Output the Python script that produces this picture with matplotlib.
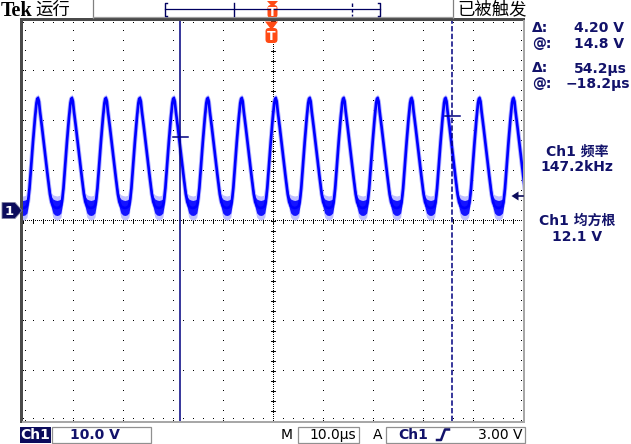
import matplotlib
matplotlib.use('Agg')
import matplotlib.pyplot as plt
import numpy as np
from matplotlib.patches import Rectangle, Polygon, FancyBboxPatch

freq_khz = 147.2          # Ch1 frequency readout
rms_v = 12.1              # Ch1 RMS readout
trig_level_v = 3.00       # trigger level
volts_per_div = 10.0
time_per_div_us = 10.0
peak_time0_us = 0.54      # time of the waveform peak just after the trigger point
# one period of the waveform (µs after a peak) and its voltage
shape_t = [0.0, 0.2, 0.4, 0.8, 1.2, 1.6, 2.0, 2.4, 2.7, 3.0, 3.4, 3.8,
           4.2, 4.6, 4.8, 5.1, 5.4, 5.8, 6.2, 6.5, 6.66]
shape_v = [22.6, 21.9, 20.0, 16.8, 13.4, 10.0, 6.6, 3.4, 1.8, 1.0, 0.7, 0.6,
           0.7, 1.0, 1.8, 4.5, 8.5, 13.8, 18.6, 21.6, 22.4]
# half-width of the noise band around the trace (V)
shape_noise = [0.5, 0.5, 0.4, 0.4, 0.4, 0.4, 0.5, 0.8, 1.1, 1.4, 1.5, 1.5,
               1.5, 1.4, 1.1, 0.6, 0.4, 0.4, 0.4, 0.5, 0.5]
cursor_times_us = [-18.6, 35.8]
cursor_volts = [14.8, 19.0]
readouts = [("Δ:", "4.20 V"), ("@:", "14.8 V"), ("Δ:", "54.2µs"), ("@:", "−18.2µs")]

# ---------------- layout ----------------
W, H = 631, 444
GX0, GY0, GW, GH = 23, 21, 500, 400
ground_px = 211
px_per_div = 50
NAVY = '#12126a'
ORANGE = '#ff4a14'

fig = plt.figure(figsize=(W / 100, H / 100), dpi=100)
fig.patch.set_facecolor('white')

# graticule axes (data coordinates: µs, V)
v_top = (ground_px - GY0) / px_per_div * volts_per_div
v_bot = (ground_px - (GY0 + GH)) / px_per_div * volts_per_div
v_center = (v_top + v_bot) / 2
ax = fig.add_axes([GX0 / W, 1 - (GY0 + GH) / H, GW / W, GH / H])
ax.set_xlim(-5 * time_per_div_us, 5 * time_per_div_us)
ax.set_ylim(v_bot, v_top)
ax.axis('off')

dt_px = time_per_div_us / px_per_div    # µs per pixel
dv_px = volts_per_div / px_per_div      # V per pixel

# grid dots
dots_x, dots_y = [], []
ys_all = np.arange(v_bot, v_top + 1e-6, 10 * dv_px)
xs_all = np.arange(-50, 50 + 1e-6, 10 * dt_px)
for k in range(-4, 5):
    if k == 0:
        continue
    xv = k * time_per_div_us
    dots_x += [xv] * len(ys_all)
    dots_y += list(ys_all)
for k in range(-3, 4):
    if k == 0:
        continue
    yv = v_center + k * volts_per_div
    dots_x += list(xs_all)
    dots_y += [yv] * len(xs_all)
# edge ticks
for xv in xs_all:
    dots_x += [xv, xv]
    dots_y += [v_top - 2 * dv_px, v_bot + 2 * dv_px]
for yv in ys_all:
    dots_x += [-50 + 2 * dt_px, 50 - 2 * dt_px]
    dots_y += [yv, yv]
# center lines, dense dots
ys_c = np.arange(v_bot, v_top + 1e-6, 2 * dv_px)
xs_c = np.arange(-50, 50 + 1e-6, 2 * dt_px)
dots_x += [0.0] * len(ys_c) + list(xs_c)
dots_y += list(ys_c) + [v_center] * len(xs_c)
ax.plot(dots_x, dots_y, ls='none', marker=',', color='black', zorder=1)
# center ticks
for yv in ys_all:
    ax.plot([-2 * dt_px, 2 * dt_px], [yv, yv], color='black', lw=0.7, zorder=1)
for xv in xs_all:
    ax.plot([xv, xv], [v_center - 2 * dv_px, v_center + 2 * dv_px], color='black', lw=0.7, zorder=1)

# waveform: tile the read period
period_us = 1000.0 / freq_khz
ts, vs, ns = [], [], []
for k in range(-9, 9):
    base = peak_time0_us + k * period_us
    for t, v, n in zip(shape_t, shape_v, shape_noise):
        ts.append(base + t)
        vs.append(v)
        ns.append(n)
ts, vs, ns = np.array(ts), np.array(vs), np.array(ns)
ax.plot(ts, vs, color='#b0b0ff', lw=3.2, zorder=3, solid_joinstyle='round')
ax.fill_between(ts, vs - 1.6 * ns, vs + 1.6 * ns, color='#c0c0ff', lw=0, zorder=3)
ax.fill_between(ts, vs - ns, vs + ns, color='#1414ff', lw=0, zorder=4)
ax.plot(ts, vs, color='#0000ff', lw=1.9, zorder=5, solid_joinstyle='round')

# cursors
ax.axvline(cursor_times_us[0], color='#000080', lw=1.1, zorder=6)
ax.axvline(cursor_times_us[1], color='#000080', lw=1.1, dashes=(3.5, 1.5), zorder=6)
for tc, vc in zip(cursor_times_us, cursor_volts):
    ax.plot([tc - 7 * dt_px, tc + 8 * dt_px], [vc, vc], color='#000080', lw=1.1, zorder=6)

# ---------------- overlay in pixel coordinates ----------------
oax = fig.add_axes([0, 0, 1, 1], zorder=10)
oax.set_xlim(0, W)
oax.set_ylim(H, 0)
oax.axis('off')
oax.patch.set_alpha(0)

# graticule border
oax.add_patch(Rectangle((20, 18), 505, 3, color='#4a4a4a', lw=0))
oax.add_patch(Rectangle((20, 18), 3, 405, color='#4a4a4a', lw=0))
oax.add_patch(Rectangle((523, 20), 2, 403, color='#a8a8a8', lw=0))
oax.add_patch(Rectangle((22, 421), 503, 2, color='#a8a8a8', lw=0))
# top bar separators
oax.plot([93, 93], [0, 18], color='#808080', lw=0.9)
oax.plot([453, 453], [0, 18], color='#808080', lw=0.9)
oax.plot([93, 453], [17, 17], color='#a0a0a0', lw=0.9)

# record-length bar
oax.plot([165, 380], [9.3, 9.3], color='#000060', lw=0.9)
oax.plot([167, 165, 165, 167], [3, 3, 16, 16], color='#000060', lw=1.0)
oax.plot([378, 380, 380, 378], [3, 3, 16, 16], color='#000060', lw=1.0)
oax.plot([234, 234], [3, 16], color='#000060', lw=1.0)
oax.plot([352, 352], [3, 16], color='#000060', lw=1.0, dashes=(2.5, 1.5))


def t_marker(cx, ytri, ybox0, ybox1, half):
    oax.add_patch(Polygon([[cx - half, ytri], [cx + half, ytri], [cx, ybox0 + 2]], closed=True,
                          color=ORANGE, lw=0))
    oax.add_patch(FancyBboxPatch((cx - half + 0.5, ybox0), 2 * half - 1, ybox1 - ybox0,
                                 boxstyle='round,pad=0,rounding_size=3.5',
                                 fc=ORANGE, ec='none'))
    oax.text(cx, (ybox0 + ybox1) / 2 + 0.5, 'T', color='white', fontsize=9, fontweight='bold',
             ha='center', va='center', family='DejaVu Sans')


t_marker(272.5, 1, 5, 18, 5.5)
t_marker(271.5, 21.5, 28, 43, 6.5)

# Tek 运行 / 已被触发
oax.text(1, 10.5, 'Tek', fontsize=14.5, fontweight='bold', family='Liberation Serif',
         ha='left', va='center', color='black')
oax.text(35, 9.5, '运行', fontsize=12.5, family='Noto Sans CJK SC', ha='left', va='center',
         color='black')
oax.text(457, 9.5, '已被触发', fontsize=12.5, family='Noto Sans CJK SC', ha='left',
         va='center', color='black')

# channel ground marker
oax.add_patch(Polygon([[2, 202.5], [15, 202.5], [22, 210.5], [15, 218.5], [2, 218.5]],
                      closed=True, fc='#0c0c5c', ec='#8080a0', lw=0.6))
oax.text(9.5, 211, '1', color='white', fontsize=9.5, fontweight='bold', ha='center',
         va='center', family='DejaVu Sans')
# trigger level marker
trig_px = ground_px - trig_level_v / dv_px
oax.add_patch(Polygon([[511.5, trig_px], [518.5, trig_px - 4.5], [518.5, trig_px + 4.5]],
                      closed=True, color='#0c0c5c', lw=0))
oax.plot([518, 523], [trig_px, trig_px], color='#0c0c5c', lw=1.2)

# right readouts
FAM = ['DejaVu Sans', 'Noto Sans CJK SC']
ys_read = [28.5, 44, 68.5, 84]
rights = [624, 624, 627, 630]
for (lab, val), yy, rx in zip(readouts, ys_read, rights):
    oax.text(532, yy, lab, fontsize=10, fontweight='bold', color=NAVY, ha='left', va='center',
             family=FAM)
    oax.text(rx, yy, val, fontsize=10, fontweight='bold', color=NAVY, ha='right', va='center',
             family=FAM)
oax.text(577, 152, 'Ch1 频率', fontsize=10, fontweight='bold', color=NAVY, ha='center',
         va='center', family=FAM)
oax.text(577, 166.5, f'{freq_khz:.1f}kHz', fontsize=10, fontweight='bold', color=NAVY,
         ha='center', va='center', family=FAM)
oax.text(577, 221, 'Ch1 均方根', fontsize=10, fontweight='bold', color=NAVY, ha='center',
         va='center', family=FAM)
oax.text(577, 236.5, f'{rms_v:.1f} V', fontsize=10, fontweight='bold', color=NAVY,
         ha='center', va='center', family=FAM)

# bottom status bar
yb = 435
oax.add_patch(Rectangle((20, 426.5), 31, 16.5, color='#0c0c5c', lw=0))
oax.text(35.5, yb, 'Ch1', color='white', fontsize=10, fontweight='bold', ha='center',
         va='center', family='DejaVu Sans')
for x0, x1 in [(52, 151), (298, 359), (386, 525)]:
    oax.add_patch(Rectangle((x0, 427), x1 - x0, 16, fc='none', ec='#909090', lw=0.9))
oax.text(95, yb, f'{volts_per_div:.1f} V', color=NAVY, fontsize=10, fontweight='bold',
         ha='center', va='center', family='DejaVu Sans')
oax.text(287, yb, 'M', color='black', fontsize=10, ha='center', va='center',
         family='DejaVu Sans')
oax.text(356, yb, f'{time_per_div_us:.1f}µs', color='black', fontsize=10, ha='right',
         va='center', family='DejaVu Sans')
oax.text(378, yb, 'A', color='black', fontsize=10, ha='center', va='center',
         family='DejaVu Sans')
oax.text(398, yb, 'Ch1', color=NAVY, fontsize=10, fontweight='bold', ha='left', va='center',
         family='DejaVu Sans')
oax.plot([437, 441, 445, 449], [440, 440, 429.5, 429.5], color=NAVY, lw=1.8)
oax.text(523, yb, f'{trig_level_v:.2f} V', color='black', fontsize=10, ha='right',
         va='center', family='DejaVu Sans')

fig.savefig('out.png', dpi=100, facecolor='white')
